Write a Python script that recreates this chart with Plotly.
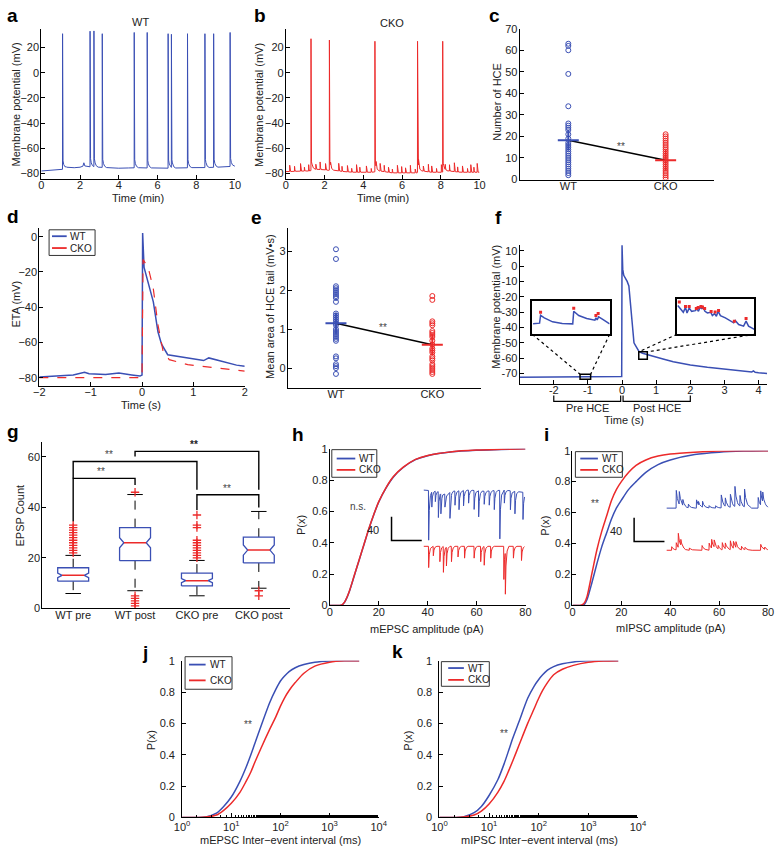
import numpy as np
import plotly.graph_objects as go

W, H = 782, 853
BLUE = "#3a4fb4"
RED = "#ec2a2a"
FONT = "Liberation Sans, Arial, sans-serif"
TXT = "#222222"

# ---------------- data ----------------
# a: WT membrane potential trace (time in min, mV)
a_base_t = [0, 0.5, 1.0, 1.08, 1.3, 1.7, 2.0, 2.15, 2.2, 2.25, 2.4, 3.0, 3.5, 4.0, 4.5, 5.0, 5.5, 6.0,
            6.5, 7.0, 7.5, 8.0, 8.5, 9.0, 9.5, 10.0]
a_base_v = [-78, -77.6, -77, -76.8, -75, -75.4, -75, -74.2, -71.5, -74, -74.6, -75, -75.4, -75.8, -75.6,
            -75.4, -75.6, -75.5, -75.8, -75.6, -75.5, -75.2, -75.3, -75, -74.8, -74]
a_spike_t = [1.1, 2.52, 2.72, 3.15, 4.8, 5.47, 6.55, 6.72, 7.55, 8.45, 8.9, 9.75]
a_spike_v = [31, 33, 33, 31, 32, 32, 31, 30, 31, 31, 31, 32]

# b: CKO membrane potential trace
b_base_t = [0, 1.0, 1.28, 1.35, 2.0, 2.22, 2.3, 3.0, 3.5, 4.0, 4.58, 4.65, 5.5, 6.0, 6.78, 6.85, 7.5,
            8.08, 8.15, 9.0, 10.0]
b_base_v = [-78.5, -78, -78, -76.5, -77, -77.5, -77, -78.5, -79, -79, -79, -77.5, -79.5, -79.5, -79.5,
            -77.5, -79, -79, -77.5, -79, -79]
b_spike_t = [1.3, 2.25, 4.6, 6.8, 8.1]
b_spike_v = [27, 26, 25, 25, 25]
b_blip_t = [0.2, 0.45, 0.76, 0.96, 1.18, 1.55, 1.77, 2.05, 2.31, 2.73, 2.9, 3.18, 3.4, 3.65, 3.82, 4.16,
            4.41, 4.66, 4.87, 5.08, 5.3, 5.5, 5.76, 5.98, 6.18, 6.43, 6.68, 6.85, 7.1, 7.36, 7.53, 7.78,
            8.03, 8.23, 8.45, 8.7, 8.87, 9.12, 9.38, 9.55, 9.71, 9.88]
b_blip_h = [5, 4, 6, 3, 5, 4, 6, 5, 3, 6, 4, 5, 3, 6, 4, 5, 3, 4, 6, 5, 4, 3, 6, 5, 4, 6, 3, 5, 4, 6,
            5, 3, 6, 4, 5, 7, 4, 5, 3, 6, 4, 7]

# c: number of HCE
c_wt = [63, 62, 60, 49, 34, 26, 25, 24, 23, 21, 19, 17, 16, 15, 14, 13, 12, 11, 10, 9, 8, 7, 6, 5, 4, 3, 2]
c_cko = [21, 20, 19, 18, 17, 16, 15, 14, 13, 12, 11, 10, 9, 8, 7, 6, 5, 4, 3, 2, 1, 0]
c_mean = [18.2, 8.9]

# d: event-triggered average (s, mV)
d_t_wt = [-2, -1.34, -1.12, -1.03, -0.71, -0.45, -0.2, -0.04, 0.0, 0.012, 0.04, 0.12, 0.22, 0.31, 0.38,
          0.5, 0.89, 1.2, 1.3, 1.46, 1.84, 2.0]
d_v_wt = [-79.6, -78.5, -76.9, -77.8, -78.2, -77.4, -78.5, -79.1, -78.5, 2, -17.5, -26, -37, -54, -61,
          -67, -68.8, -70.3, -68.8, -70.1, -72.9, -73.5]
d_t_cko = [-2, -0.7, -0.2, 0.0, 0.02, 0.12, 0.22, 0.31, 0.41, 0.53, 0.89, 1.4, 2.0]
d_v_cko = [-80, -80, -80.4, -80, -13, -17.5, -29.6, -50, -65, -69.8, -72.6, -74.4, -76.3]

# e: mean area of HCE tail
e_wt = [3.05, 2.8, 2.1, 2.05, 2.0, 1.95, 1.9, 1.85, 1.8, 1.7, 1.4, 1.35, 1.3, 1.25, 1.2, 1.15, 1.1, 1.0,
        0.95, 0.9, 0.85, 0.8, 0.75, 0.7, 0.3, 0.25, 0.1, 0.05, 0.0, -0.15]
e_cko = [1.85, 1.75, 1.2, 1.15, 1.1, 0.95, 0.9, 0.85, 0.8, 0.7, 0.6, 0.5, 0.45, 0.4, 0.3, 0.25, 0.2, 0.1,
         0.05, 0.0, -0.05, -0.1, -0.15]
e_mean = [1.15, 0.6]

# f: single HCE trace (s, mV)
f_t = [-3, -2.5, -2, -1.5, -1.0, -0.5, -0.05, -0.01, 0.0, 0.02, 0.05, 0.1, 0.15, 0.2, 0.25, 0.3, 0.35,
       0.4, 0.5, 0.6, 0.8, 1.0, 1.2, 1.5, 2.0, 2.5, 3.0, 3.5, 3.8, 3.85, 3.9, 4.0, 4.25]
f_v = [-72.4, -72.3, -72.2, -72.3, -72.2, -72.1, -72.2, -72.0, 13.5, -2, -6, -8, -10, -13, -25, -42, -50,
       -52, -55.8, -56.8, -58.2, -59.3, -60.5, -62.3, -64.5, -66, -67.3, -68.5, -69, -68.3, -69.2, -69.5, -70]
f_pre_t = [-1.227, -1.201, -1.197, -1.182, -1.149, -1.110, -1.068, -1.064, -1.044, -1.012, -0.979, -0.975,
           -0.970, -0.964, -0.946, -0.920]
f_pre_v = [-72.72, -72.67, -72.08, -72.27, -72.57, -72.69, -72.72, -71.78, -72.10, -72.32, -72.45, -72.27,
           -72.42, -72.20, -72.40, -72.72]
f_pre_ev_t = [-1.197, -1.064, -0.975, -0.966]
f_pre_ev_v = [-71.85, -71.55, -72.1, -71.95]
f_post_t = [0.492, 0.503, 0.510, 0.517, 0.522, 0.529, 0.537, 0.549, 0.554, 0.559, 0.564, 0.570, 0.575,
            0.580, 0.588, 0.599, 0.604, 0.611, 0.617, 0.623, 0.630, 0.646, 0.662, 0.673, 0.678, 0.689,
            0.705, 0.713, 0.721, 0.740]
f_post_v = [-55.30, -56.14, -56.66, -55.69, -56.79, -55.82, -56.47, -56.34, -55.95, -56.47, -55.69, -55.95,
            -55.82, -56.47, -56.79, -56.66, -57.31, -56.92, -57.44, -56.47, -57.31, -57.76, -58.28, -58.74,
            -58.28, -59.06, -59.39, -58.41, -59.39, -60.04]
f_post_ev_t = [0.497, 0.517, 0.529, 0.552, 0.558, 0.567, 0.572, 0.579, 0.600, 0.613, 0.624, 0.675, 0.713]
f_post_ev_v = [-54.65, -55.5, -55.5, -55.9, -55.7, -55.5, -55.6, -55.9, -56.5, -56.6, -56.3, -58.4, -57.9]
f_pre_win = [-1.23, -0.92, -73.7, -70.5]
f_post_win = [0.49, 0.74, -60.8, -55.9]
f_periods = [(-2, -0.04, "Pre HCE"), (0.03, 2, "Post HCE")]

# g: EPSP counts (box statistics)
g_labels = ["WT pre", "WT post", "CKO pre", "CKO post"]
g_q1 = [10.8, 18.9, 8.9, 18.0]
g_med = [13.1, 26.0, 11.0, 23.1]
g_q3 = [16.1, 32.0, 14.0, 28.2]
g_lo = [5.9, 7.0, 5.0, 8.0]
g_hi = [21.0, 45.1, 19.0, 38.4]
g_notch = [0.9, 2.0, 0.8, 2.0]
g_out = [[22, 23, 24, 25, 26, 27, 28, 29, 30, 31, 32, 33],
         [46, 5, 4, 3, 2, 1],
         [37, 33, 32, 27, 26, 25, 24, 23, 22, 21, 20],
         [7, 5]]
g_brackets = [(1, 2, 51.5, 34.5, 48.9), (1, 3, 58.2, 51.5, 47.0), (3, 4, 45.0, 39.0, 40.0),
              (2, 4, 62.2, 60.2, 47.0)]
g_stars = [(1.45, 54.3), (1.58, 61.0), (2.96, 64.8), (3.48, 47.6)]

# h: mEPSC amplitude CDF
h_x = [0, 4, 5, 6, 7, 8, 10, 12, 14, 16, 18, 20, 23, 26, 30, 35, 40, 50, 60, 70, 80]
h_wt = [0, 0, 0.003, 0.02, 0.05, 0.09, 0.19, 0.29, 0.39, 0.49, 0.58, 0.66, 0.75, 0.82, 0.88, 0.93, 0.955,
        0.98, 0.99, 0.995, 1.0]
h_cko = [0, 0, 0.004, 0.021, 0.052, 0.092, 0.192, 0.292, 0.392, 0.492, 0.582, 0.662, 0.752, 0.822, 0.882,
         0.932, 0.957, 0.981, 0.991, 0.996, 1.0]
h_wt_ev_t = [0.097, 0.16, 0.23, 0.29, 0.34, 0.42, 0.52, 0.62, 0.70, 0.79, 0.89, 1.00, 1.09, 1.20, 1.30,
             1.40, 1.51, 1.60, 1.72, 1.81, 1.97]
h_wt_ev_a = [42, 13, 9, 22, 17, 11, 22, 12, 16, 13, 11, 16, 22, 11, 12, 16, 41, 11, 16, 19, 23]
h_wt_base_t = [0, 0.3, 0.45, 0.55, 0.9, 1.2, 1.6, 2.0]
h_wt_base_v = [0, -1, -4, -1, 0, -1, 0, -2]
h_cko_ev_t = [0.097, 0.19, 0.32, 0.39, 0.45, 0.55, 0.68, 0.81, 1.00, 1.13, 1.20, 1.33, 1.59, 1.62, 1.78, 1.94]
h_cko_ev_a = [18, 8, 13, 22, 16, 13, 9, 10, 10, 13, 16, 10, 28, 36, 10, 12]

# i: mIPSC amplitude CDF
i_x = [0, 3, 4, 5, 6, 8, 10, 12, 14, 16, 18, 20, 23, 26, 30, 35, 40, 50, 60, 70, 80]
i_wt = [0, 0, 0, 0.01, 0.04, 0.15, 0.27, 0.38, 0.47, 0.56, 0.63, 0.68, 0.75, 0.80, 0.86, 0.91, 0.94, 0.975,
        0.99, 0.997, 1.0]
i_cko = [0, 0, 0.005, 0.02, 0.06, 0.21, 0.36, 0.48, 0.58, 0.68, 0.75, 0.80, 0.86, 0.905, 0.94, 0.965, 0.978,
         0.99, 0.997, 0.999, 1.0]
i_wt_ev_t = [0.19, 0.25, 0.32, 0.43, 0.59, 0.63, 0.71, 0.84, 0.97, 1.08, 1.16, 1.26, 1.35, 1.45, 1.54, 1.81,
             1.86, 1.90]
i_wt_ev_a = [15, 11, 5, 3, 7, 3, 5, 2, 2, 11, 7, 11, 17, 9, 15, 9, 12, 8]
i_cko_ev_t = [0.10, 0.19, 0.23, 0.28, 0.45, 0.70, 0.84, 0.89, 0.94, 1.02, 1.10, 1.16, 1.26, 1.32, 1.37, 1.48,
              1.55, 1.86, 1.94]
i_cko_ev_a = [3, 6, 12, 5, 2, 4, 6, 7.5, 6, 3, 6, 5, 7.5, 6, 5, 3, 2, 5, 2]
scalebar_t = 0.6
scalebar_pA = 20

# j, k: inter-event interval CDFs (ms)
jk_x = [1, 2, 3, 5, 7, 10, 15, 20, 25, 30, 40, 60, 80, 100, 120, 150, 200, 300, 500, 1000, 2000, 4000]
j_wt = [0, 0, 0.003, 0.027, 0.07, 0.13, 0.23, 0.32, 0.40, 0.47, 0.58, 0.73, 0.815, 0.87, 0.90, 0.93, 0.955,
        0.975, 0.99, 0.998, 1, 1]
j_cko = [0, 0, 0.002, 0.015, 0.045, 0.09, 0.16, 0.23, 0.29, 0.35, 0.44, 0.56, 0.64, 0.71, 0.76, 0.81, 0.86,
         0.92, 0.965, 0.99, 0.999, 1]
k_wt = [0, 0, 0.003, 0.03, 0.07, 0.14, 0.24, 0.34, 0.43, 0.505, 0.61, 0.76, 0.835, 0.88, 0.91, 0.94, 0.962,
        0.98, 0.992, 0.999, 1, 1]
k_cko = [0, 0, 0.002, 0.015, 0.04, 0.085, 0.16, 0.23, 0.30, 0.36, 0.46, 0.60, 0.69, 0.76, 0.81, 0.86, 0.91,
         0.945, 0.97, 0.99, 0.998, 1]

legend_names = ["WT", "CKO"]

# ---------------- helpers ----------------
SPIKE_K = ([-0.004, 0, 0.008, 0.025, 0.06, 0.12, 0.22], [0, 1, 0.1, 0.06, 0.03, 0.01, 0])
BLIP_K = ([-0.004, 0, 0.02, 0.05], [0, 1, 0.3, 0])
EPSC_K = ([-0.004, 0, 0.012, 0.035, 0.07], [0, 1, 0.4, 0.1, 0])
IPSC_K = ([-0.004, 0, 0.02, 0.06, 0.14], [0, 1, 0.55, 0.2, 0])


def build(base_t, base_v, groups):
    grid = set(float(t) for t in base_t)
    for ev_t, _, (kd, _) in groups:
        for te in ev_t:
            for d in kd:
                grid.add(round(te + d, 6))
    t = np.array(sorted(g for g in grid if base_t[0] <= g <= base_t[-1]))
    v = np.interp(t, base_t, base_v)
    for ev_t, amps, (kd, kf) in groups:
        for te, A in zip(ev_t, amps):
            v = v + A * np.interp(t - te, kd, kf, left=0, right=0)
    return t, v


def px(x):
    return x / W


def py(y):
    return 1 - y / H


AX = dict(showline=True, linecolor="black", linewidth=1, ticks="inside", ticklen=4, tickcolor="black",
          showgrid=False, zeroline=False, tickfont=dict(size=11, color=TXT, family=FONT), mirror=False)
layout = {}


def ax(n, x0, x1, y0, y1, xr, yr, xo=None, yo=None):
    s = "" if n == 1 else str(n)
    xa = dict(AX, domain=[px(x0), px(x1)], range=xr, anchor="y" + s, ticklabelstandoff=-4)
    ya = dict(AX, domain=[py(y1), py(y0)], range=yr, anchor="x" + s, ticklabelstandoff=-1)
    if xo:
        xa.update(xo)
    if yo:
        ya.update(yo)
    layout["xaxis" + s] = xa
    layout["yaxis" + s] = ya
    return "x" + s, "y" + s


fig = go.Figure()
annots = []
shapes = []


def ann(text, x, y, size=11, color=TXT, angle=0, bold=False, xanchor="center", **kw):
    if bold:
        text = "<b>%s</b>" % text
    annots.append(dict(text=text, x=px(x), y=py(y), xref="paper", yref="paper", showarrow=False,
                       font=dict(size=size, color=color, family=FONT), textangle=angle,
                       xanchor=xanchor, yanchor="middle", **kw))


def line(xa, ya, x, y, color, width=1, dash=None, name=None, shape="linear", smoothing=1):
    fig.add_trace(go.Scatter(x=x, y=y, mode="lines", xaxis=xa, yaxis=ya, name=name,
                             line=dict(color=color, width=width, dash=dash, shape=shape,
                                       smoothing=smoothing if shape == "spline" else None),
                             showlegend=False, hoverinfo="skip"))


def key(box, rows, line_x, text_x, colors=(BLUE, RED)):
    """Boxed key: box=(x0,y0,x1,y1) in px, rows = y of each row."""
    x0, y0, x1, y1 = box
    shapes.append(dict(type="rect", xref="paper", yref="paper", x0=px(x0), x1=px(x1), y0=py(y1), y1=py(y0),
                       line=dict(color="#333", width=1), fillcolor="white", layer="above"))
    for nm, c, ry in zip(legend_names, colors, rows):
        shapes.append(dict(type="line", xref="paper", yref="paper", x0=px(line_x[0]), x1=px(line_x[1]),
                           y0=py(ry), y1=py(ry), line=dict(color=c, width=1.8), layer="above"))
        ann(nm, text_x, ry, size=10, xanchor="left")


# ---------------- a ----------------
xa, ya = ax(1, 34, 232, 23, 175, [0, 10], [-84, 35],
            dict(tickvals=[0, 2, 4, 6, 8, 10]), dict(tickvals=[-80, -60, -40, -20, 0, 20]))
amp_a = [p - np.interp(t, a_base_t, a_base_v) for t, p in zip(a_spike_t, a_spike_v)]
t, v = build(a_base_t, a_base_v, [(a_spike_t, amp_a, SPIKE_K)])
line(xa, ya, t, v, BLUE, 1, name="WT")
ann("WT", 135, 16)
ann("Time (min)", 133, 195)
ann("Membrane potential (mV)", 8, 100, angle=-90)

# ---------------- b ----------------
xb, yb = ax(2, 284, 482, 23, 175, [0, 10], [-84, 35],
            dict(tickvals=[0, 2, 4, 6, 8, 10]), dict(tickvals=[-80, -60, -40, -20, 0, 20]))
amp_b = [p - np.interp(t, b_base_t, b_base_v) for t, p in zip(b_spike_t, b_spike_v)]
t, v = build(b_base_t, b_base_v, [(b_spike_t, amp_b, SPIKE_K), (b_blip_t, b_blip_h, BLIP_K)])
line(xb, yb, t, v, RED, 1, name="CKO")
ann("CKO", 393, 17)
ann("Time (min)", 383, 195)
ann("Membrane potential (mV)", 256, 100, angle=-90)

# ---------------- c ----------------
xc, yc = ax(3, 523, 722, 23, 176, [0.5, 2.5], [0, 70],
            dict(tickvals=[1, 2], ticktext=["WT", "CKO"], ticks=""), dict(dtick=10))
fig.add_trace(go.Scatter(x=[1] * len(c_wt), y=c_wt, mode="markers", xaxis=xc, yaxis=yc, showlegend=False,
                         marker=dict(symbol="circle-open", size=5, color=BLUE, line=dict(width=1))))
fig.add_trace(go.Scatter(x=[2] * len(c_cko), y=c_cko, mode="markers", xaxis=xc, yaxis=yc, showlegend=False,
                         marker=dict(symbol="circle-open", size=5, color=RED, line=dict(width=1))))
line(xc, yc, [1, 2], c_mean, "black", 1.5)
fig.add_trace(go.Scatter(x=[1, 2], y=c_mean, mode="markers", xaxis=xc, yaxis=yc, showlegend=False,
                         marker=dict(symbol="cross-thin", size=15, color=[BLUE, RED],
                                     line=dict(width=2, color=[BLUE, RED]))))
ann("**", 627, 143, size=10, color="#444")
ann("Number of HCE", 500, 97, angle=-90)

# ---------------- d ----------------
xd, yd = ax(4, 32, 242, 225, 385, [-2, 2], [-84.5, 5],
            dict(tickvals=[-2, -1, 0, 1, 2]), dict(tickvals=[-80, -60, -40, -20, 0]))
line(xd, yd, d_t_wt, d_v_wt, BLUE, 1.5, name="WT")
line(xd, yd, d_t_cko, d_v_cko, RED, 1.2, dash="dash", name="CKO")
key((42, 227, 89, 253), (233.5, 245.5), (45, 60), 61)
ann("ETA (mV)", 8, 302, angle=-90)
ann("Time (s)", 136, 405)

# ---------------- e ----------------
xe, ye = ax(5, 286, 483, 225, 387, [0.5, 2.5], [-0.5, 3.6],
            dict(tickvals=[1, 2], ticktext=["WT", "CKO"], ticks=""), dict(tickvals=[0, 1, 2, 3]))
fig.add_trace(go.Scatter(x=[1] * len(e_wt), y=e_wt, mode="markers", xaxis=xe, yaxis=ye, showlegend=False,
                         marker=dict(symbol="circle-open", size=5, color=BLUE, line=dict(width=1))))
fig.add_trace(go.Scatter(x=[2] * len(e_cko), y=e_cko, mode="markers", xaxis=xe, yaxis=ye, showlegend=False,
                         marker=dict(symbol="circle-open", size=5, color=RED, line=dict(width=1))))
line(xe, ye, [1, 2], e_mean, "black", 1.5)
fig.add_trace(go.Scatter(x=[1, 2], y=e_mean, mode="markers", xaxis=xe, yaxis=ye, showlegend=False,
                         marker=dict(symbol="cross-thin", size=15, color=[BLUE, RED],
                                     line=dict(width=2, color=[BLUE, RED]))))
ann("**", 383, 326, size=10, color="#444")
ann("Mean area of HCE tail (mV\u2022s)", 268, 305, angle=-90)

# ---------------- f ----------------
F_DOM = (523, 776, 242, 383)
F_XR = [-3, 4.25]
F_YR = [-76.6, 14]
xf, yf = ax(6, *F_DOM, F_XR, F_YR,
            dict(tickvals=[-2, -1, 0, 1, 2, 3, 4], ticktext=["-2", "-1", "0", "1", "2", "3", "4"]),
            dict(tickvals=list(range(-70, 11, 10)), ticktext=[str(k) for k in range(-70, 11, 10)]))
line(xf, yf, f_t, f_v, BLUE, 1.5)


def f_to_px(t, v):
    x0, x1, y0, y1 = F_DOM
    X = x0 + (t - F_XR[0]) / (F_XR[1] - F_XR[0]) * (x1 - x0)
    Y = y1 - (v - F_YR[0]) / (F_YR[1] - F_YR[0]) * (y1 - y0)
    return X, Y


insets = [(12, (536, 615, 299, 333), f_pre_win, [-73.5, -71.0], f_pre_t, f_pre_v, f_pre_ev_t, f_pre_ev_v),
          (13, (684, 763, 297, 333), f_post_win, [-61, -54], f_post_t, f_post_v, f_post_ev_t, f_post_ev_v)]
for n, (bx0, bx1, by0, by1), win, yr, tt, vv, et, ev in insets:
    xi, yi = ax(n, bx0, bx1, by0, by1, [win[0], win[1]], yr,
                dict(mirror=True, ticks="", showticklabels=False, linewidth=1.5),
                dict(mirror=True, ticks="", showticklabels=False, linewidth=1.5))
    line(xi, yi, tt, vv, BLUE, 1.5)
    fig.add_trace(go.Scatter(x=et, y=ev, mode="markers", xaxis=xi, yaxis=yi, showlegend=False,
                             marker=dict(symbol="square", size=3, color=RED)))
    shapes.append(dict(type="rect", xref=xf, yref=yf, x0=win[0], x1=win[1], y0=win[2], y1=win[3],
                       line=dict(color="black", width=1.5)))
    for cx, wx in ((bx0, win[0]), (bx1, win[1])):
        X, Y = f_to_px(wx, win[3])
        shapes.append(dict(type="line", xref="paper", yref="paper", x0=px(cx), y0=py(by1), x1=px(X), y1=py(Y),
                           line=dict(color="black", width=1.2, dash="dot")))
for p0, p1, lab in f_periods:
    shapes.append(dict(type="path", xref=xf, yref="paper",
                       path="M %g,%g L %g,%g L %g,%g L %g,%g" % (p0, py(395), p0, py(401), p1, py(401), p1, py(395)),
                       line=dict(color="black", width=1.2)))
    annots.append(dict(text=lab, x=(p0 + p1) / 2, y=py(408), xref=xf, yref="paper", showarrow=False,
                       font=dict(size=11, color=TXT, family=FONT), yanchor="middle"))
ann("Membrane potential (mV)", 499, 305, angle=-90)
ann("Time (s)", 630, 420)

# ---------------- g ----------------
xg, yg = ax(7, 35, 288, 442, 611, [0.5, 4.5], [0, 66],
            dict(tickvals=[1, 2, 3, 4], ticktext=g_labels, ticks=""), dict(tickvals=[0, 20, 40, 60]))
BW, BN, CAP = 0.25, 0.18, 0.125
for k in range(4):
    x = k + 1
    q1, md, q3, n = g_q1[k], g_med[k], g_q3[k], g_notch[k]
    line(xg, yg, [x, x], [q3, g_hi[k]], "black", 1, dash="dash")
    line(xg, yg, [x, x], [q1, g_lo[k]], "black", 1, dash="dash")
    line(xg, yg, [x - CAP, x + CAP], [g_hi[k]] * 2, "black", 1)
    line(xg, yg, [x - CAP, x + CAP], [g_lo[k]] * 2, "black", 1)
    bx = [x - BW, x + BW, x + BW, x + BN, x + BW, x + BW, x - BW, x - BW, x - BN, x - BW, x - BW]
    byy = [q1, q1, md - n, md, md + n, q3, q3, md + n, md, md - n, q1]
    fig.add_trace(go.Scatter(x=bx, y=byy, mode="lines", xaxis=xg, yaxis=yg, fill="toself", fillcolor="white",
                             line=dict(color=BLUE, width=1.3), showlegend=False, hoverinfo="skip"))
    line(xg, yg, [x - BN, x + BN], [md, md], RED, 1.5)
    fig.add_trace(go.Scatter(x=[x] * len(g_out[k]), y=g_out[k], mode="markers", xaxis=xg, yaxis=yg,
                             showlegend=False, marker=dict(symbol="cross-thin", size=6, color=RED,
                                                           line=dict(width=1.3, color=RED))))
for x1, x2, top, yl, yr_ in g_brackets:
    line(xg, yg, [x1, x1, x2, x2], [yl, top, top, yr_], "black", 1.4)
for k, (sx, sy) in enumerate(g_stars):
    annots.append(dict(text="<b>**</b>" if k == 2 else "**", x=sx, y=sy, xref=xg, yref=yg, showarrow=False,
                       font=dict(size=10, color="#222" if k == 2 else "#444", family=FONT)))
ann("EPSP Count", 12, 517, angle=-90)

# ---------------- h ----------------
PTICKS = dict(tickvals=[0, 0.2, 0.4, 0.6, 0.8, 1], ticktext=["0", "0.2", "0.4", "0.6", "0.8", "1"])
xh, yh = ax(8, 329, 529, 449, 608, [0, 80], [0, 1], dict(tickvals=[0, 20, 40, 60, 80]), PTICKS)
line(xh, yh, h_x, h_wt, BLUE, 1.5, name="WT", shape="spline", smoothing=0.8)
line(xh, yh, h_x, h_cko, RED, 1.5, name="CKO", shape="spline", smoothing=0.8)
key((331, 450, 377, 478), (459, 470.5), (336, 355), 357)
ann("n.s.", 358, 508, size=10, color="#444")
ann("40", 373, 531, size=11)
ann("P(x)", 299, 527, angle=-90)
ann("mEPSC amplitude (pA)", 428, 632)
HID = dict(visible=False)
xhi, yhi = ax(14, 385, 530, 485, 597, [-0.777, 2.039], [-88.3, 5], HID, HID)
t, v = build(h_wt_base_t, h_wt_base_v, [(h_wt_ev_t, [-a for a in h_wt_ev_a], EPSC_K)])
line(xhi, yhi, t, v, BLUE, 1)
t, v = build([0, 2], [0, 0], [(h_cko_ev_t, [-a for a in h_cko_ev_a], EPSC_K)])
line(xhi, yhi, t, v - 47.5, RED, 1)
line(xhi, yhi, [-0.64, -0.64, -0.64 + scalebar_t], [-42.5 + scalebar_pA, -42.5, -42.5], "black", 1.5)

# ---------------- i ----------------
xi_, yi_ = ax(9, 577, 777, 451, 608, [0, 80], [0, 1], dict(tickvals=[0, 20, 40, 60, 80]), PTICKS)
line(xi_, yi_, i_x, i_wt, BLUE, 1.5, name="WT", shape="spline", smoothing=0.8)
line(xi_, yi_, i_x, i_cko, RED, 1.5, name="CKO", shape="spline", smoothing=0.8)
key((580, 452, 628, 478), (459, 470.5), (585, 603), 605)
ann("**", 600, 505, size=10, color="#444")
ann("40", 622, 532, size=11)
ann("P(x)", 548, 527, angle=-90)
ann("mIPSC amplitude (pA)", 677, 631)
xii, yii = ax(15, 630, 778, 480, 565, [-0.838, 2.025], [-46.4, 24.4], HID, HID)
t, v = build([0, 2], [0, 0], [(i_wt_ev_t, i_wt_ev_a, IPSC_K)])
line(xii, yii, t, v, BLUE, 1)
t, v = build([0, 2], [0, 0], [(i_cko_ev_t, i_cko_ev_a, IPSC_K)])
line(xii, yii, t, v - 35.6, RED, 1)
line(xii, yii, [-0.644, -0.644, -0.644 + scalebar_t], [-28.1 + scalebar_pA, -28.1, -28.1], "black", 1.5)

# ---------------- j, k ----------------
LOGX = dict(type="log", tickvals=[1, 10, 100, 1000, 10000],
            ticktext=["10<sup>0</sup>", "10<sup>1</sup>", "10<sup>2</sup>", "10<sup>3</sup>", "10<sup>4</sup>"],
            minor=dict(ticks="inside", ticklen=2, tickcolor="black", showgrid=False), ticklabelstandoff=-1)
PTICKS_JK = dict(PTICKS, ticklabelstandoff=4)
xj, yj = ax(10, 178, 379, 664, 823, [0, 4], [0, 1], LOGX, PTICKS_JK)
line(xj, yj, jk_x, j_wt, BLUE, 1.5, name="WT", shape="spline", smoothing=0.8)
line(xj, yj, jk_x, j_cko, RED, 1.5, name="CKO", shape="spline", smoothing=0.8)
key((181, 660, 229, 693), (668, 684), (185, 202), 204)
ann("**", 245, 729, size=10, color="#444")
ann("P(x)", 146, 745, angle=-90)
ann("mEPSC Inter\u2212event interval (ms)", 279, 846)

xk, yk = ax(11, 441, 644, 664, 823, [0, 4], [0, 1], LOGX, PTICKS_JK)
line(xk, yk, jk_x, k_wt, BLUE, 1.5, name="WT", shape="spline", smoothing=0.8)
line(xk, yk, jk_x, k_cko, RED, 1.5, name="CKO", shape="spline", smoothing=0.8)
key((443, 665, 492, 690), (671.5, 683.5), (450, 466), 468)
ann("**", 507, 738, size=10, color="#444")
ann("P(x)", 408, 745, angle=-90)
ann("mIPSC Inter\u2212event interval (ms)", 543, 846)

# ---------------- panel letters ----------------
for lab, x, y in [("a", 5, 10), ("b", 258, 10), ("c", 497, 10), ("d", 5, 213), ("e", 254, 215),
                  ("f", 501, 215), ("g", 5, 432), ("h", 296, 435), ("i", 550, 435), ("j", 140, 656),
                  ("k", 398, 655)]:
    ann(lab, x, y, size=19, color="black", bold=True)

fig.update_layout(width=W, height=H, margin=dict(l=0, r=0, t=0, b=0), paper_bgcolor="white",
                  plot_bgcolor="rgba(0,0,0,0)", font=dict(family=FONT, size=11, color=TXT),
                  showlegend=False, annotations=annots, shapes=shapes, **layout)
fig.write_html("out.html", config={"displayModeBar": False},
               post_script="document.body.style.margin='0';document.body.style.padding='0';"
                           "document.body.style.overflow='hidden';")
